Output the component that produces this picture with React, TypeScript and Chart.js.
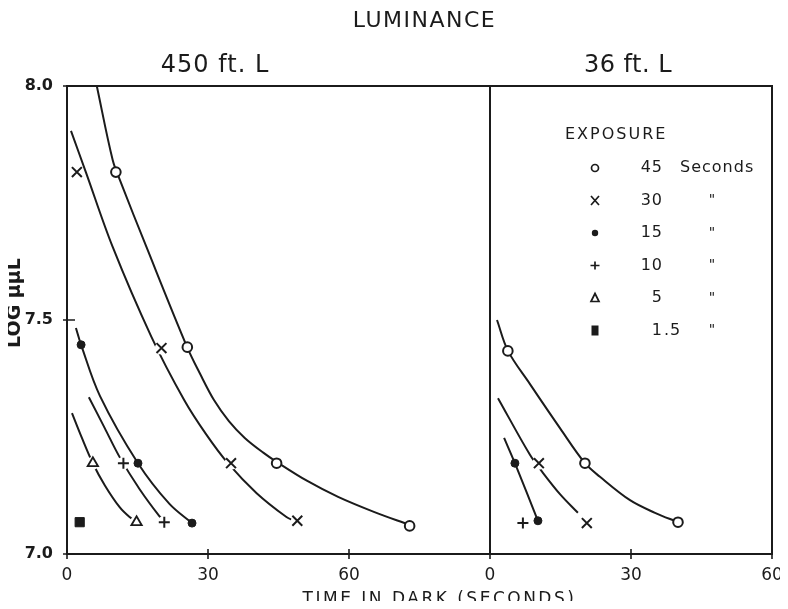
import React, { useEffect, useRef } from 'react';
import { Chart, registerables } from 'chart.js';

Chart.register(...registerables);

const INK = '#1b1b1b';
const FONT = "'DejaVu Sans', 'Noto Sans', sans-serif";

// ---------- texts ----------
const mainTitle = 'LUMINANCE';
const panelTitles = ['450 ft. L', '36 ft. L'];
const xAxisTitle = 'TIME IN DARK (SECONDS)';
const yAxisTitle = 'LOG \u03bc\u03bcL';
const legendTitle = 'EXPOSURE';

// ---------- axes ----------
const yMin = 7.0;
const yMax = 8.0;
const yTickValues = [7.0, 7.5, 8.0];
const leftMax = 90;
const leftTickValues = [0, 30, 60];
const rightMax = 60;
const rightTickValues = [0, 30, 60];

// ---------- exposure legend ----------
const exposureValues = ['45', '30', '15', '10', '5', '1.5'];
const exposureUnits = ['Seconds', '"', '"', '"', '"', '"'];
const exposureSymbols = ['circle', 'cross', 'dot', 'plus', 'triangle', 'square'];

type Pt = [number, number];

// ---------- 450 ft. L panel (time s, log uuL) ----------
const curve45Left: Pt[] = [[6.34, 8.0], [9.72, 7.842], [11.41, 7.795], [16.9, 7.656], [25.56, 7.442], [28.31, 7.385], [31.27, 7.329], [34.44, 7.284], [37.82, 7.248], [41.83, 7.216], [44.58, 7.197], [51.13, 7.156], [57.68, 7.122], [65.29, 7.09], [72.89, 7.062]];
const points45Left: Pt[] = [[10.4, 7.816], [25.6, 7.442], [44.6, 7.194], [72.9, 7.06]];

const curve30Left: Pt[] = [[0.85, 7.904], [4.01, 7.816], [9.72, 7.656], [17.96, 7.464], [24.93, 7.329], [29.58, 7.256], [34.23, 7.194], [40.35, 7.13], [46.69, 7.079], [48.38, 7.071]];
const points30Left: Pt[] = [[2.1, 7.816], [20.1, 7.44], [34.9, 7.194], [49.0, 7.071]];

const curve15Left: Pt[] = [[1.9, 7.483], [3.0, 7.447], [7.0, 7.338], [15.1, 7.194], [21.8, 7.107], [26.6, 7.066]];
const points15Left: Pt[] = [[3.0, 7.447], [15.1, 7.194], [26.6, 7.066]];

const curve10Left: Pt[] = [[4.65, 7.335], [8.03, 7.269], [11.2, 7.207], [15.42, 7.139], [19.65, 7.081], [20.71, 7.071]];
const points10Left: Pt[] = [[12.0, 7.194], [20.7, 7.068]];

const curve5Left: Pt[] = [[1.06, 7.301], [3.17, 7.248], [5.49, 7.194], [8.03, 7.147], [11.2, 7.1], [13.31, 7.079], [14.58, 7.071]];
const points5Left: Pt[] = [[5.5, 7.194], [14.8, 7.068]];

const points1p5Left: Pt[] = [[2.7, 7.068]];

// ---------- 36 ft. L panel ----------
const curve45Right: Pt[] = [[1.49, 7.5], [3.83, 7.434], [8.51, 7.363], [14.89, 7.269], [20.21, 7.194], [23.4, 7.165], [29.79, 7.115], [35.11, 7.088], [40.0, 7.068]];
const points45Right: Pt[] = [[3.8, 7.434], [20.2, 7.194], [40.0, 7.068]];

const curve30Right: Pt[] = [[1.7, 7.333], [8.5, 7.212], [11.3, 7.173], [14.89, 7.128], [18.7, 7.088]];
const points30Right: Pt[] = [[10.4, 7.194], [20.6, 7.066]];

const curve15Right: Pt[] = [[3.0, 7.248], [5.3, 7.194], [10.2, 7.071]];
const points15Right: Pt[] = [[5.3, 7.194], [10.2, 7.071]];

const points10Right: Pt[] = [[7.0, 7.066]];

const seriesDefs = [
  { symbol: 'circle', axis: 'x', curve: curve45Left, points: points45Left },
  { symbol: 'cross', axis: 'x', curve: curve30Left, points: points30Left },
  { symbol: 'dot', axis: 'x', curve: curve15Left, points: points15Left },
  { symbol: 'plus', axis: 'x', curve: curve10Left, points: points10Left },
  { symbol: 'triangle', axis: 'x', curve: curve5Left, points: points5Left },
  { symbol: 'square', axis: 'x', curve: [] as Pt[], points: points1p5Left },
  { symbol: 'circle', axis: 'x2', curve: curve45Right, points: points45Right },
  { symbol: 'cross', axis: 'x2', curve: curve30Right, points: points30Right },
  { symbol: 'dot', axis: 'x2', curve: curve15Right, points: points15Right },
  { symbol: 'plus', axis: 'x2', curve: [] as Pt[], points: points10Right },
];

const markerStyles: Record<string, any> = {
  circle: { pointStyle: 'circle', radius: 4.8, fill: '#ffffff', width: 2, mask: false },
  cross: { pointStyle: 'crossRot', radius: 7, fill: INK, width: 2, mask: true },
  dot: { pointStyle: 'circle', radius: 4, fill: INK, width: 1, mask: false },
  plus: { pointStyle: 'cross', radius: 5.5, fill: INK, width: 2, mask: true },
  triangle: { pointStyle: 'triangle', radius: 6, fill: '#ffffff', width: 1.8, mask: true },
  square: { pointStyle: 'rect', radius: 6.5, fill: INK, width: 1, mask: false },
};

const toXY = (pts: Pt[]) => pts.map(([x, y]) => ({ x, y }));

function buildDatasets() {
  const out: any[] = [];
  for (const s of seriesDefs) {
    const m = markerStyles[s.symbol];
    if (s.curve.length) {
      out.push({
        data: toXY(s.curve), xAxisID: s.axis, yAxisID: 'y', showLine: true,
        pointRadius: 0, borderColor: INK, borderWidth: 2,
        tension: 0.35, fill: false, order: 3,
      });
    }
    if (m.mask) {
      out.push({
        data: toXY(s.points), xAxisID: s.axis, yAxisID: 'y', showLine: false,
        pointStyle: 'circle', pointRadius: 6.5, pointBackgroundColor: '#ffffff',
        pointBorderWidth: 0, pointBorderColor: 'rgba(0,0,0,0)', order: 2,
      });
    }
    out.push({
      data: toXY(s.points), xAxisID: s.axis, yAxisID: 'y', showLine: false,
      pointStyle: m.pointStyle, pointRadius: m.radius, pointBackgroundColor: m.fill,
      pointBorderColor: INK, pointBorderWidth: m.width, order: 1,
    });
  }
  return out;
}

function drawText(ctx: CanvasRenderingContext2D, s: string, px: number, py: number, font: string,
  align: CanvasTextAlign, baseline: CanvasTextBaseline, spacing = 0) {
  ctx.save();
  ctx.font = font;
  ctx.fillStyle = INK;
  ctx.textAlign = align;
  ctx.textBaseline = baseline;
  if ('letterSpacing' in ctx) (ctx as any).letterSpacing = spacing + 'px';
  ctx.fillText(s, px, py);
  ctx.restore();
}

function drawSymbol(ctx: CanvasRenderingContext2D, sym: string, x: number, y: number) {
  ctx.save();
  ctx.strokeStyle = INK;
  ctx.fillStyle = INK;
  ctx.lineWidth = 1.7;
  ctx.beginPath();
  if (sym === 'circle') {
    ctx.arc(x, y, 3.5, 0, Math.PI * 2);
    ctx.stroke();
  } else if (sym === 'cross') {
    ctx.moveTo(x - 4, y - 4.5); ctx.lineTo(x + 4, y + 4.5);
    ctx.moveTo(x + 4, y - 4.5); ctx.lineTo(x - 4, y + 4.5);
    ctx.stroke();
  } else if (sym === 'dot') {
    ctx.arc(x, y, 3.2, 0, Math.PI * 2);
    ctx.fill();
  } else if (sym === 'plus') {
    ctx.moveTo(x - 4.5, y); ctx.lineTo(x + 4.5, y);
    ctx.moveTo(x, y - 4); ctx.lineTo(x, y + 4);
    ctx.stroke();
  } else if (sym === 'triangle') {
    ctx.moveTo(x, y - 4.5); ctx.lineTo(x + 4, y + 3.5); ctx.lineTo(x - 4, y + 3.5); ctx.closePath();
    ctx.stroke();
  } else if (sym === 'square') {
    ctx.fillRect(x - 3.5, y - 5, 7, 10);
  }
  ctx.restore();
}

const decorPlugin = {
  id: 'decor',
  afterDatasetsDraw(chart: any) {
    const { ctx, chartArea: a, scales } = chart;
    const xl = scales.x, xr = scales.x2, ys = scales.y;
    ctx.save();
    ctx.strokeStyle = INK;
    ctx.lineWidth = 2;
    ctx.strokeRect(a.left, a.top, a.right - a.left, a.bottom - a.top);
    ctx.beginPath();
    ctx.moveTo(xr.left, a.top);
    ctx.lineTo(xr.left, a.bottom);
    ctx.stroke();
    ctx.lineWidth = 1.6;
    ctx.beginPath();
    for (const s of [xl, xr]) {
      for (const t of s.ticks) {
        const px = Math.round(s.getPixelForValue(t.value));
        ctx.moveTo(px, a.bottom - 5);
        ctx.lineTo(px, a.bottom + 5);
      }
    }
    for (const t of ys.ticks) {
      const py = Math.round(ys.getPixelForValue(t.value));
      ctx.moveTo(a.left - 4, py);
      ctx.lineTo(a.left + 8, py);
    }
    ctx.stroke();
    ctx.restore();
  },
  afterDraw(chart: any) {
    const { ctx, chartArea: a, scales } = chart;
    const xl = scales.x, xr = scales.x2;
    const midX = (a.left + a.right) / 2;
    drawText(ctx, mainTitle, midX + 5, a.top - 59, `22px ${FONT}`, 'center', 'alphabetic', 1.5);
    drawText(ctx, panelTitles[0], xl.left + (xl.right - xl.left) * 0.35, a.top - 14, `24px ${FONT}`, 'center', 'alphabetic', 1);
    drawText(ctx, panelTitles[1], (xr.left + xr.right) / 2 - 3, a.top - 14, `24px ${FONT}`, 'center', 'alphabetic', 0.5);
    drawText(ctx, xAxisTitle, midX + 20, a.bottom + 50, `17px ${FONT}`, 'center', 'alphabetic', 2.5);

    ctx.save();
    ctx.translate(15, (a.top + a.bottom) / 2 - 17);
    ctx.rotate(-Math.PI / 2);
    drawText(ctx, yAxisTitle, 0, 0, `bold 19px ${FONT}`, 'center', 'middle', 0);
    ctx.restore();

    // legend
    const lx = xr.left;
    drawText(ctx, legendTitle, lx + 75, a.top + 49, `16px ${FONT}`, 'left', 'middle', 2);
    exposureValues.forEach((v, i) => {
      const ry = a.top + 82 + i * 32.5;
      drawSymbol(ctx, exposureSymbols[i], lx + 105, ry);
      const [ip, fp] = v.split('.');
      drawText(ctx, ip, lx + 173, ry, `16px ${FONT}`, 'right', 'middle', 1);
      if (fp !== undefined) drawText(ctx, '.' + fp, lx + 174, ry, `16px ${FONT}`, 'left', 'middle', 1);
      const u = exposureUnits[i];
      if (u === '"') drawText(ctx, u, lx + 222, ry, `14px ${FONT}`, 'center', 'middle', 0);
      else drawText(ctx, u, lx + 190, ry, `16px ${FONT}`, 'left', 'middle', 1);
    });
  },
};

export default function App() {
  const ref = useRef<HTMLCanvasElement>(null);
  useEffect(() => {
    document.documentElement.style.overflow = 'hidden';
    Chart.defaults.font.family = FONT;
    Chart.defaults.color = INK;
    const chart = new Chart(ref.current as HTMLCanvasElement, {
      type: 'scatter',
      data: { datasets: buildDatasets() },
      options: {
        responsive: true,
        maintainAspectRatio: false,
        animation: false,
        events: [],
        layout: { padding: { top: 86, right: 16, left: 0, bottom: 0 } },
        plugins: { legend: { display: false }, tooltip: { enabled: false }, title: { display: false } },
        scales: {
          x: {
            type: 'linear', position: 'bottom', stack: 'time', stackWeight: leftMax,
            min: 0, max: leftMax,
            grid: { display: false }, border: { display: false },
            ticks: { font: { size: 17 }, color: INK, padding: 3, maxRotation: 0, callback: (v: any) => String(v) },
            afterBuildTicks: (s: any) => { s.ticks = leftTickValues.map((v) => ({ value: v })); },
            afterFit: (s: any) => { s.height = 55; s.paddingLeft = 0; s.paddingRight = 0; },
          },
          x2: {
            type: 'linear', position: 'bottom', stack: 'time', stackWeight: rightMax,
            min: 0, max: rightMax,
            grid: { display: false }, border: { display: false },
            ticks: { font: { size: 17 }, color: INK, padding: 3, maxRotation: 0, callback: (v: any) => String(v) },
            afterBuildTicks: (s: any) => { s.ticks = rightTickValues.map((v) => ({ value: v })); },
            afterFit: (s: any) => { s.height = 55; s.paddingLeft = 0; s.paddingRight = 0; },
          },
          y: {
            type: 'linear', position: 'left', min: yMin, max: yMax,
            grid: { display: false }, border: { display: false },
            ticks: { font: { size: 16, weight: 'bold' }, color: INK, padding: 6, callback: (v: any) => Number(v).toFixed(1) },
            afterBuildTicks: (s: any) => { s.ticks = yTickValues.map((v) => ({ value: v })); },
            afterFit: (s: any) => { s.width = 67; },
          },
        },
      } as any,
      plugins: [decorPlugin],
    });
    return () => chart.destroy();
  }, []);
  return (
    <div style={{ width: 788, height: 609, margin: '-8px 0 -8px -8px', position: 'relative', background: '#ffffff' }}>
      <canvas ref={ref} />
    </div>
  );
}
